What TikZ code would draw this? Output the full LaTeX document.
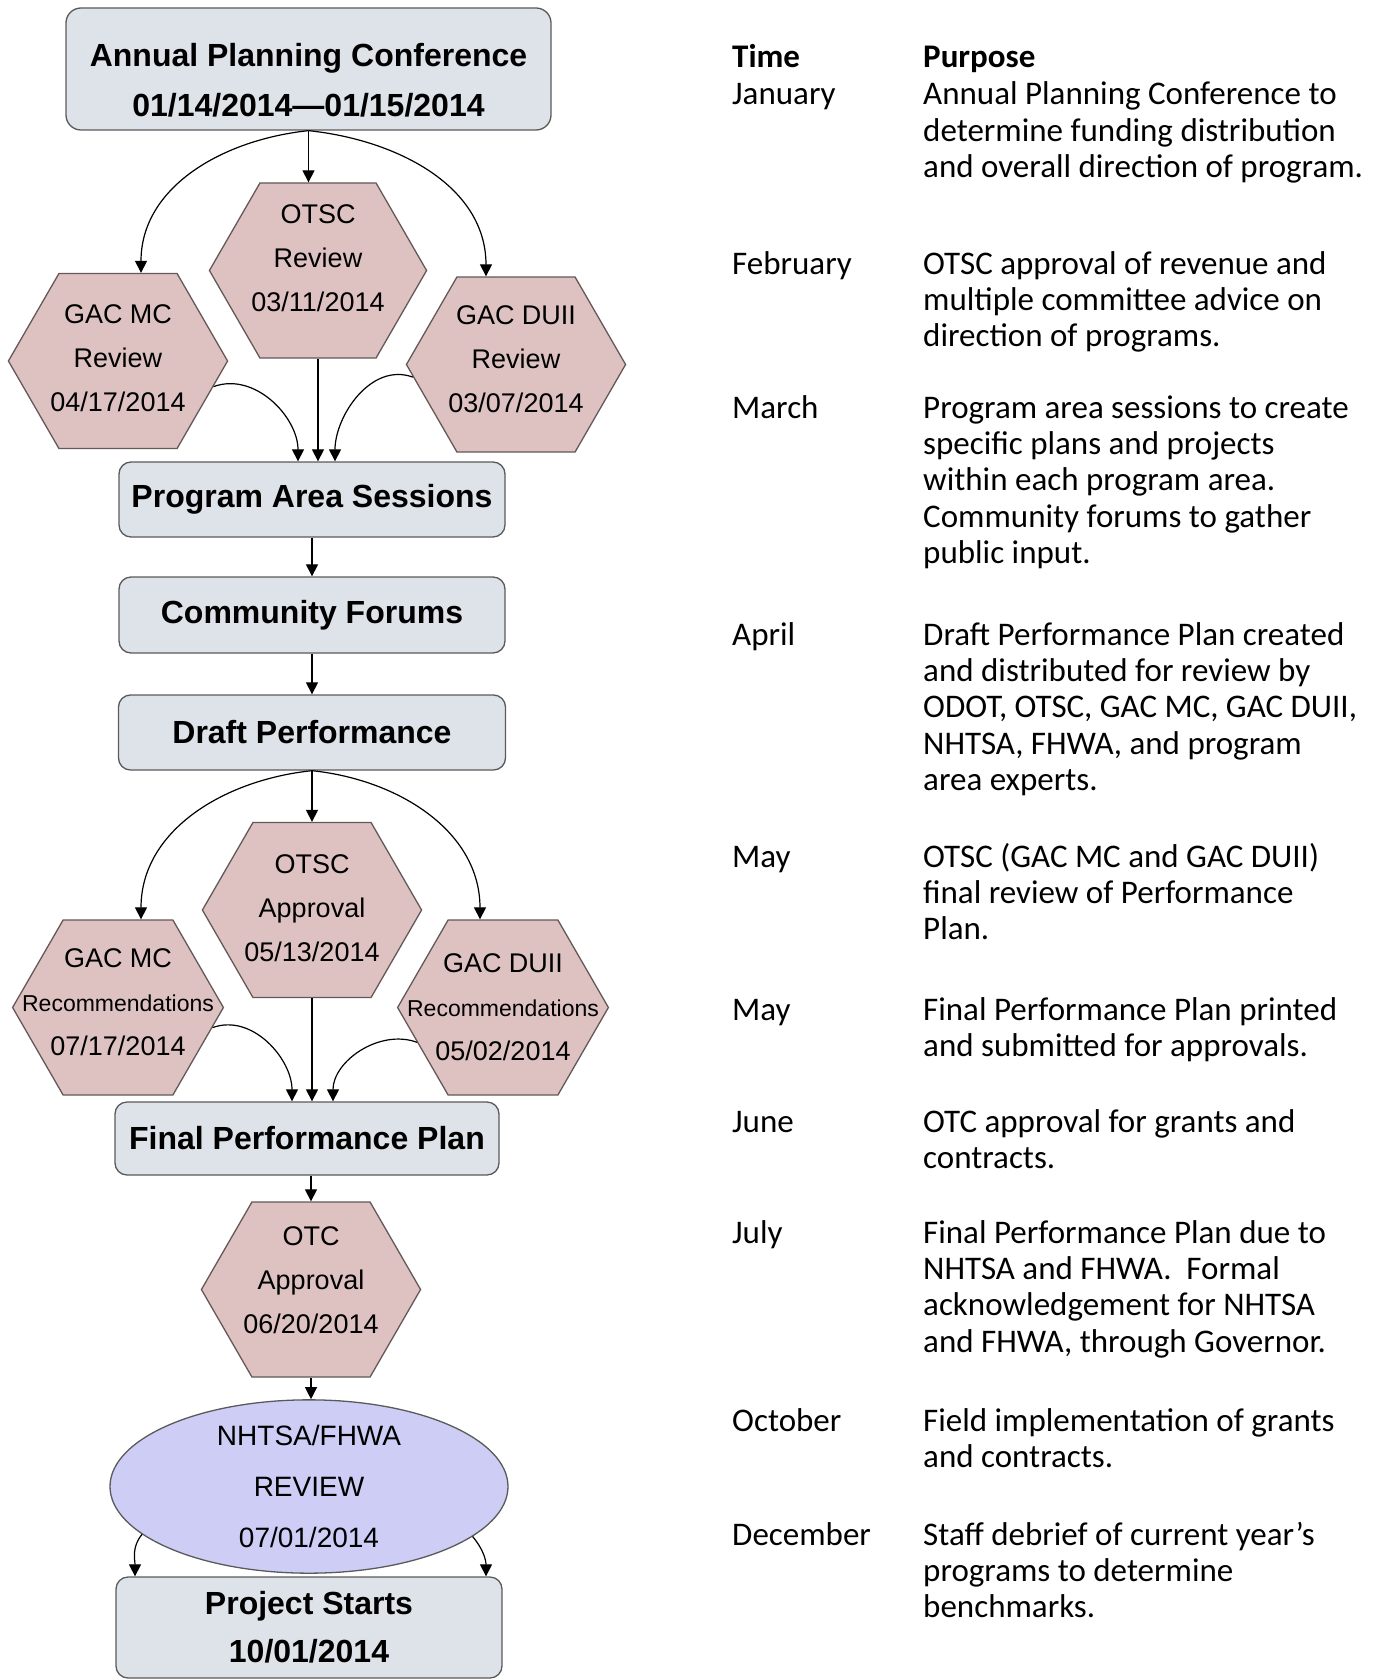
\documentclass[tikz,border=0pt]{standalone}
\usepackage{fontspec}
\setmainfont{Liberation Sans}
\newfontfamily\notefont{Carlito}
\usetikzlibrary{arrows.meta,shapes.geometric,shapes.symbols}
\definecolor{boxfill}{RGB}{222,227,233}
\definecolor{boxline}{RGB}{90,90,90}
\definecolor{hexfill}{RGB}{222,194,194}
\definecolor{hexline}{RGB}{100,88,88}
\definecolor{ovalfill}{RGB}{205,205,245}
\tikzset{
  stagebox/.style={draw=boxline, fill=boxfill, line width=1.3pt, rounded corners=12pt,
    inner sep=0pt, align=center, font=\bfseries\fontsize{32}{48}\selectfont},
  hexbox/.style={signal, signal to=west and east, signal pointer angle=120,
    draw=hexline, fill=hexfill, line width=1.3pt, minimum width=0pt,
    minimum height=175pt, inner ysep=0pt, inner xsep=-8.5pt, align=center,
    font=\fontsize{27}{44}\selectfont},
  recbox/.style={hexbox, inner xsep=-41pt},
  reviewoval/.style={ellipse, draw=boxline, fill=ovalfill, line width=1.3pt,
    minimum width=398pt, minimum height=153pt, inner sep=0pt, align=center,
    font=\fontsize{28}{51}\selectfont},
  flow/.style={line width=1.2pt, -{Triangle[width=12pt,length=12pt]}},
  month/.style={anchor=base west, inner sep=0pt,
    font=\notefont\fontsize{33}{36.4}\selectfont},
  purpose/.style={month, align=left},
}
\newcommand{\smallrec}{{\fontsize{23}{40}\selectfont Recommendations}}
% extra depth on the last line lifts a hexagon's text a little
\newcommand{\lift}[1]{\rule[-#1pt]{0pt}{0pt}}
\begin{document}
\begin{tikzpicture}[x=1pt, y=1pt]
  \useasboundingbox (0,0) rectangle (1374,-1680);
  % Flow chart, first review round
  \node[stagebox, minimum width=485pt, minimum height=122pt, rounded corners=15pt,
    font=\bfseries\fontsize{32}{50}\selectfont]
    (apc) at (308.5,-69) {\rule{0pt}{45pt}Annual Planning Conference\\01/14/2014---01/15/2014};
  \node[hexbox] (otscrev) at (318,-270.5) {OTSC\\Review\\03/11/2014\lift{24}};
  \node[hexbox] (gacmcrev) at (118,-361) {GAC MC\\Review\\04/17/2014\lift{6}};
  \node[hexbox] (gacduiirev) at (516,-364.5) {GAC DUII\\Review\\03/07/2014\lift{10}};
  \node[stagebox, minimum width=386pt, minimum height=75pt]
    (pas) at (312,-499.5) {Program Area Sessions};
  \node[stagebox, minimum width=386pt, minimum height=76pt]
    (cf) at (312,-615) {Community Forums};
  \node[stagebox, minimum width=387pt, minimum height=75pt]
    (dp) at (312,-732.5) {Draft Performance};
  % Second review round
  \node[hexbox] (otscap) at (312,-910) {OTSC\\Approval\\05/13/2014\lift{4}};
  \node[recbox] (gacmcrec) at (118,-1007.5) {GAC MC\\\smallrec\\07/17/2014\lift{10}};
  \node[recbox] (gacduiirec) at (503,-1007.5) {GAC DUII\\\smallrec\\05/02/2014};
  \node[stagebox, minimum width=384pt, minimum height=73pt]
    (fpp) at (307,-1138.5) {Final Performance Plan};
  \node[hexbox] (otc) at (311,-1289.5) {OTC\\Approval\\06/20/2014\lift{18}};
  \node[reviewoval] (nhtsa) at (309,-1486.5) {NHTSA/FHWA\\REVIEW\\07/01/2014};
  \node[stagebox, minimum width=386pt, minimum height=101pt]
    (ps) at (309,-1627.5) {Project Starts\\10/01/2014};

  % Connectors
  \draw[flow] (apc.south) -- (apc.south |- otscrev.north);
  \draw[flow] (apc.south) to[out=186,in=90] ([xshift=23pt]gacmcrev.north);
  \draw[flow] (apc.south) to[out=-6,in=90] ([xshift=-30pt]gacduiirev.north);
  \draw[flow] (gacmcrev.-15) to[out=20,in=90] ([xshift=-14pt]pas.north);
  \draw[flow] (otscrev.south) -- (otscrev.south |- pas.north);
  \draw[flow] (gacduiirev.187) to[out=160,in=90] ([xshift=23pt]pas.north);
  \draw[flow] (pas) -- (cf);
  \draw[flow] (cf) -- (dp);
  \draw[flow] (dp.south) -- (dp.south |- otscap.north);
  \draw[flow] (dp.south) to[out=186,in=90] ([xshift=23pt]gacmcrec.north);
  \draw[flow] (dp.south) to[out=-6,in=90] ([xshift=-23pt]gacduiirec.north);
  \draw[flow] (gacmcrec.-12) to[out=20,in=90] ([xshift=-15pt]fpp.north);
  \draw[flow] (otscap.south) -- (otscap.south |- fpp.north);
  \draw[flow] (gacduiirec.202) to[out=160,in=90] ([xshift=26pt]fpp.north);
  \draw[flow] (otc.north |- fpp.south) -- (otc.north);
  \draw[flow] (otc.south) -- (otc.south |- nhtsa.north);
  \draw[flow] (nhtsa.196) to[out=230,in=90] ([xshift=-174pt]ps.north);
  \draw[flow] (nhtsa.-17) to[out=-50,in=90] ([xshift=177pt]ps.north);

  % Time table (purpose nodes sit on the baseline of their last line)
  \node[month, font=\notefont\bfseries\fontsize{33}{36.4}\selectfont] (timehead) at (732,-68) {Time};
  \node[month, font=\notefont\bfseries\fontsize{33}{36.4}\selectfont] (purposehead) at (923,-68) {Purpose};
  \node[month] (jan) at (732,-105) {January};
  \node[purpose] (janp) at (923,-177.8) {Annual Planning Conference to\\determine funding distribution\\and overall direction of program.};
  \node[month] (feb) at (732,-274) {February};
  \node[purpose] (febp) at (923,-346.8) {OTSC approval of revenue and\\multiple committee advice on\\direction of programs.};
  \node[month] (mar) at (732,-418) {March};
  \node[purpose] (marp) at (923,-563.6) {Program area sessions to create\\specific plans and projects\\within each program area.\\Community forums to gather\\public input.};
  \node[month] (apr) at (732,-645) {April};
  \node[purpose] (aprp) at (923,-790.6) {Draft Performance Plan created\\and distributed for review by\\ODOT, OTSC, GAC MC, GAC DUII,\\NHTSA, FHWA, and program\\area experts.};
  \node[month] (may) at (732,-867) {May};
  \node[purpose] (mayp) at (923,-939.8) {OTSC (GAC MC and GAC DUII)\\final review of Performance\\Plan.};
  \node[month] (maytwo) at (732,-1020) {May};
  \node[purpose] (maytwop) at (923,-1056.4) {Final Performance Plan printed\\and submitted for approvals.};
  \node[month] (jun) at (732,-1132) {June};
  \node[purpose] (junp) at (923,-1168.4) {OTC approval for grants and\\contracts.};
  \node[month] (jul) at (732,-1243) {July};
  \node[purpose] (julp) at (923,-1352.2) {Final Performance Plan due to\\NHTSA and FHWA.\ \ Formal\\acknowledgement for NHTSA\\and FHWA, through Governor.};
  \node[month] (oct) at (732,-1431) {October};
  \node[purpose] (octp) at (923,-1467.4) {Field implementation of grants\\and contracts.};
  \node[month] (dec) at (732,-1545) {December};
  \node[purpose] (decp) at (923,-1617.8) {Staff debrief of current year’s\\programs to determine\\benchmarks.};
\end{tikzpicture}
\end{document}
